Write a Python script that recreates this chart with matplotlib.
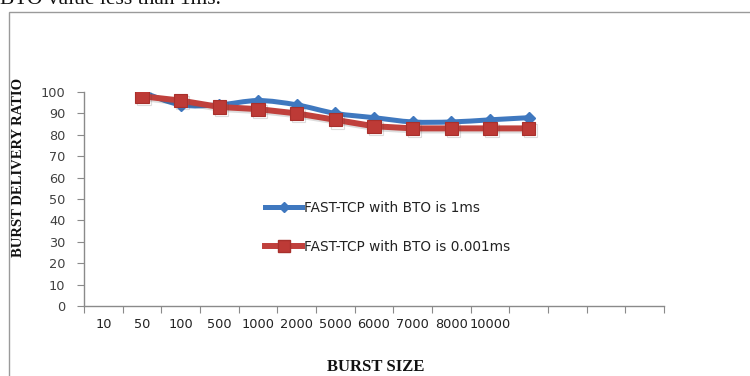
import numpy as np
import matplotlib
matplotlib.use("Agg")
import matplotlib.pyplot as plt
from matplotlib.path import Path
from matplotlib.patches import PathPatch, Rectangle
from matplotlib.lines import Line2D
import matplotlib.patheffects as pe

# Category axis: 15 slots, only the first 11 carry a label
categories = ["10", "50", "100", "500", "1000", "2000", "5000", "6000",
              "7000", "8000", "10000", "", "", "", ""]
# Burst delivery ratio per slot (first slot empty)
bto_1ms = [np.nan, 100, 94, 94, 96, 94, 90, 88, 86, 86, 87, 88]
bto_0001ms = [np.nan, 98, 96, 93, 92, 90, 87, 84, 83, 83, 83, 83]
y_ticks = [0, 10, 20, 30, 40, 50, 60, 70, 80, 90, 100]

label_1ms = "FAST-TCP with BTO is 1ms"
label_0001ms = "FAST-TCP with BTO is 0.001ms"

BLUE = "#3f78bf"
RED = "#c0403c"
AXIS = "#8a8a8a"

W, H = 750, 376
fig = plt.figure(figsize=(W / 100, H / 100), dpi=100)

# Document text above the chart frame and the frame itself
fig.text(0 / W, 1 - 4 / H, "BTO value less than 1ms.", family="Liberation Serif",
         fontsize=15.5, va="baseline", ha="left", color="#111111")
fig.patches.append(Rectangle((9 / W, -0.1), 1.2, 1 - 12 / H + 0.1,
                             transform=fig.transFigure, fill=False,
                             edgecolor="#9a9a9a", linewidth=1.0))

ax = fig.add_axes([84 / W, 1 - 306 / H, 580 / W, (306 - 92) / H])
ax.set_xlim(-0.5, len(categories) - 0.5)
ax.set_ylim(0, 100)

for s in ("top", "right"):
    ax.spines[s].set_visible(False)
for s in ("left", "bottom"):
    ax.spines[s].set_color(AXIS)
    ax.spines[s].set_linewidth(1.0)

ax.set_yticks(y_ticks)
ax.tick_params(axis="y", length=5, color=AXIS, labelsize=9.3,
               labelcolor="#404040", pad=8.5)
ax.set_xticks(np.arange(len(categories) + 1) - 0.5)
ax.set_xticklabels([])
ax.tick_params(axis="x", which="major", length=5, color=AXIS)
ax.set_xticks(np.arange(len(categories)), minor=True)
ax.set_xticklabels(categories, minor=True)
ax.tick_params(axis="x", which="minor", length=0, labelsize=9.3,
               labelcolor="#222222", pad=9)

shadow = [pe.SimpleLineShadow(offset=(1.5, -1.5), alpha=0.18, shadow_color="#444444"),
          pe.Normal()]

# Smoothed curve for the 1 ms series (Catmull-Rom as cubic Bezier)
xb = np.arange(len(bto_1ms), dtype=float)
yb = np.array(bto_1ms, dtype=float)
ok = ~np.isnan(yb)
px, py = xb[ok], yb[ok]
verts = [(px[0], py[0])]
codes = [Path.MOVETO]
n = len(px)
for i in range(n - 1):
    i0 = max(i - 1, 0)
    i3 = min(i + 2, n - 1)
    c1 = (px[i] + (px[i + 1] - px[i0]) / 6, py[i] + (py[i + 1] - py[i0]) / 6)
    c2 = (px[i + 1] - (px[i3] - px[i]) / 6, py[i + 1] - (py[i3] - py[i]) / 6)
    verts += [c1, c2, (px[i + 1], py[i + 1])]
    codes += [Path.CURVE4] * 3
ax.add_patch(PathPatch(Path(verts, codes), facecolor="none", edgecolor=BLUE,
                       linewidth=3.6, capstyle="round", joinstyle="round", zorder=3))
ax.plot(xb, yb, linestyle="none", marker="D", markersize=6.5,
        color=BLUE, markeredgecolor=BLUE, zorder=4)

xr = np.arange(len(bto_0001ms))
ax.plot(xr, bto_0001ms, color=RED, linewidth=4.3, marker="s", markersize=9.5,
        markerfacecolor="#bd3a36", markeredgecolor="#a8302c", markeredgewidth=0.8,
        solid_joinstyle="round", zorder=5, path_effects=shadow)

handles = [
    Line2D([], [], color=BLUE, linewidth=3.6, marker="D", markersize=5),
    Line2D([], [], color=RED, linewidth=4.3, marker="s", markersize=8,
           markerfacecolor="#bd3a36", markeredgecolor="#a8302c"),
]
fig.legend(handles, [label_1ms, label_0001ms], loc="upper left",
           bbox_to_anchor=(265 / W, 1 - 201 / H), frameon=False, fontsize=9.8,
           handlelength=2.75, handletextpad=0.1, labelspacing=1.85,
           borderpad=0, borderaxespad=0, labelcolor="#222222")

fig.text(19 / W, 1 - 167 / H, "BURST DELIVERY RATIO", rotation=90,
         family="Liberation Serif", fontweight="bold", fontsize=10.5,
         ha="center", va="center", color="#111111")
fig.text(376 / W, 1 - 367 / H, "BURST SIZE", family="Liberation Serif",
         fontweight="bold", fontsize=12, ha="center", va="center", color="#111111")

fig.savefig("out.png", dpi=100)
